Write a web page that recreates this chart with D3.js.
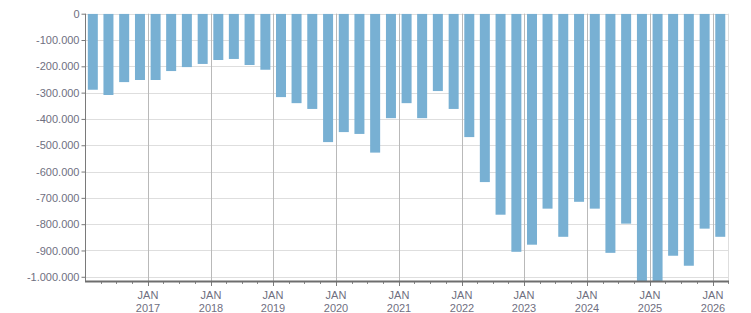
<!DOCTYPE html>
<html><head><meta charset="utf-8">
<script src="https://cdn.jsdelivr.net/npm/d3@7"></script>
<style>
html,body{margin:0;padding:0;background:#fff;}
svg{display:block;}
text{font-family:"Liberation Sans",Arial,sans-serif;font-size:11px;fill:#6f6f7f;}
</style></head>
<body>
<svg id="chart" width="751" height="313"></svg>
<script>
// Quarterly values, Q1 2016 .. Q1 2026
const quarters = [
 "2016Q1","2016Q2","2016Q3","2016Q4",
 "2017Q1","2017Q2","2017Q3","2017Q4",
 "2018Q1","2018Q2","2018Q3","2018Q4",
 "2019Q1","2019Q2","2019Q3","2019Q4",
 "2020Q1","2020Q2","2020Q3","2020Q4",
 "2021Q1","2021Q2","2021Q3","2021Q4",
 "2022Q1","2022Q2","2022Q3","2022Q4",
 "2023Q1","2023Q2","2023Q3","2023Q4",
 "2024Q1","2024Q2","2024Q3","2024Q4",
 "2025Q1","2025Q2","2025Q3","2025Q4",
 "2026Q1"];
const values = [
 -289000,-309000,-260000,-252000,
 -252000,-218000,-203000,-191000,
 -176000,-172000,-195000,-213000,
 -317000,-340000,-362000,-488000,
 -450000,-457000,-528000,-397000,
 -340000,-397000,-294000,-362000,
 -469000,-640000,-764000,-905000,
 -878000,-741000,-848000,-715000,
 -741000,-909000,-798000,-1045000,
 -1040000,-920000,-958000,-817000,
 -848000];
const yTicks = [0,-100000,-200000,-300000,-400000,-500000,-600000,-700000,-800000,-900000,-1000000];
const xTickYears = [2017,2018,2019,2020,2021,2022,2023,2024,2025,2026];

(function(){
const svg = d3.select("#chart");
const pL = 85, pR = 728, pT = 13.7, pB = 281;

const x = d3.scaleTime()
  .domain([new Date(2016,0,1), new Date(2026,3,1)])
  .range([pL, pR]);
const y = d3.scaleLinear().domain([-1016000, 0]).range([pB, pT]);

const loc = d3.formatLocale({decimal:",", thousands:".", grouping:[3], currency:["",""], minus:"-"});
const fmt = loc.format(",d");

// horizontal grid
svg.append("g").selectAll("line").data(yTicks).join("line")
  .attr("x1", pL).attr("x2", pR)
  .attr("y1", d => Math.round(y(d)) + 0.5).attr("y2", d => Math.round(y(d)) + 0.5)
  .attr("stroke", "#dedede").attr("stroke-width", 1);

// right border
svg.append("line").attr("x1", pR + 0.5).attr("x2", pR + 0.5)
  .attr("y1", pT).attr("y2", pB).attr("stroke", "#dedede");

// vertical Jan gridlines
const janDates = xTickYears.map(yr => new Date(yr,0,1));
svg.append("g").selectAll("line").data(janDates).join("line")
  .attr("x1", d => Math.round(x(d)) + 0.5).attr("x2", d => Math.round(x(d)) + 0.5)
  .attr("y1", pT).attr("y2", pB)
  .attr("stroke", "#b9b9b9").attr("stroke-width", 1);

// bars
const parseQ = q => { const yr = +q.slice(0,4), qi = +q.slice(5) - 1; return [new Date(yr, qi*3, 1), new Date(yr, qi*3+3, 1)]; };
svg.append("clipPath").attr("id","clip").append("rect")
  .attr("x", pL).attr("y", pT).attr("width", pR-pL).attr("height", pB-pT);
const bw = 10;
svg.append("g").attr("clip-path","url(#clip)").selectAll("rect").data(quarters).join("rect")
  .attr("x", (q) => { const [a,b] = parseQ(q); return (x(a)+x(b))/2 - bw/2; })
  .attr("width", bw)
  .attr("y", y(0))
  .attr("height", (q,i) => y(values[i]) - y(0))
  .attr("fill", "#78b0d3");

// y axis
svg.append("line").attr("x1", pL + 0.5).attr("x2", pL + 0.5)
  .attr("y1", pT).attr("y2", pB).attr("stroke", "#7a7a7a");
const yAxis = d3.axisLeft(y).tickValues(yTicks).tickFormat(fmt).tickSize(4).tickPadding(2);
const gy = svg.append("g").attr("transform", `translate(${pL+0.5},0)`).call(yAxis);
gy.select(".domain").remove();
gy.selectAll(".tick line").attr("stroke", "#7a7a7a");
gy.selectAll("text").style("font-family", "\"Liberation Sans\",Arial,sans-serif").style("font-size","11px").attr("fill","#6f6f7f");

// x axis
const qTicks = d3.timeMonth.every(3).range(new Date(2016,3,1), new Date(2026,3,2));
svg.append("g").selectAll("line").data(qTicks).join("line")
  .attr("x1", d => Math.round(x(d)) + 0.5).attr("x2", d => Math.round(x(d)) + 0.5)
  .attr("y1", pB).attr("y2", d => d.getMonth() === 0 ? pB + 5 : pB + 3)
  .attr("stroke", d => d.getMonth() === 0 ? "#7a7a7a" : "#8a8a8a");
svg.append("line").attr("x1", pL).attr("x2", pR + 1)
  .attr("y1", pB + 0.5).attr("y2", pB + 0.5)
  .attr("stroke", "#6e6e6e").attr("stroke-width", 2);

const xl = svg.append("g").selectAll("g").data(janDates).join("g")
  .attr("transform", d => `translate(${Math.round(x(d))},0)`);
xl.append("text").attr("y", 299).attr("text-anchor","middle").text("JAN");
xl.append("text").attr("y", 312).attr("text-anchor","middle").text(d => d.getFullYear());
})();
</script>
</body></html>
